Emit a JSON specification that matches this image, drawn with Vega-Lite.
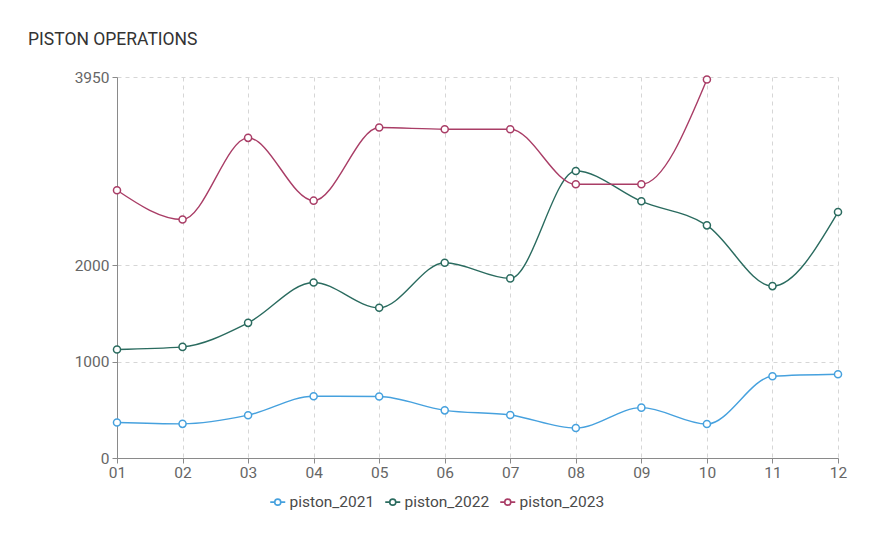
{
  "$schema": "https://vega.github.io/schema/vega-lite/v6.json",
  "width": 721,
  "height": 381,
  "autosize": {"type": "none"},
  "padding": {"left": 117, "top": 77, "right": 47, "bottom": 83},
  "background": "white",
  "config": {
    "font": "Roboto",
    "view": {"stroke": null},
    "axis": {
      "labelFont": "Roboto",
      "labelFontSize": 15.5,
      "labelColor": "#666666",
      "domainColor": "#8a8a8a",
      "tickColor": "#8a8a8a",
      "tickSize": 5,
      "gridColor": "#d6d6d6",
      "gridDash": [4, 4],
      "title": null
    }
  },
  "title": {
    "text": "PISTON OPERATIONS",
    "anchor": "start",
    "frame": "group",
    "font": "Roboto",
    "fontSize": 17.5,
    "fontWeight": "normal",
    "color": "#333333",
    "dx": -89,
    "dy": -18
  },
  "data": {
    "values": [
      {"month": "01", "series": "piston_2021", "value": 368},
      {"month": "02", "series": "piston_2021", "value": 354},
      {"month": "03", "series": "piston_2021", "value": 444},
      {"month": "04", "series": "piston_2021", "value": 640},
      {"month": "05", "series": "piston_2021", "value": 637},
      {"month": "06", "series": "piston_2021", "value": 494},
      {"month": "07", "series": "piston_2021", "value": 446},
      {"month": "08", "series": "piston_2021", "value": 311},
      {"month": "09", "series": "piston_2021", "value": 522},
      {"month": "10", "series": "piston_2021", "value": 352},
      {"month": "11", "series": "piston_2021", "value": 847},
      {"month": "12", "series": "piston_2021", "value": 868},
      {"month": "01", "series": "piston_2022", "value": 1125},
      {"month": "02", "series": "piston_2022", "value": 1152},
      {"month": "03", "series": "piston_2022", "value": 1401},
      {"month": "04", "series": "piston_2022", "value": 1820},
      {"month": "05", "series": "piston_2022", "value": 1557},
      {"month": "06", "series": "piston_2022", "value": 2024},
      {"month": "07", "series": "piston_2022", "value": 1862},
      {"month": "08", "series": "piston_2022", "value": 2976},
      {"month": "09", "series": "piston_2022", "value": 2661},
      {"month": "10", "series": "piston_2022", "value": 2412},
      {"month": "11", "series": "piston_2022", "value": 1782},
      {"month": "12", "series": "piston_2022", "value": 2550},
      {"month": "01", "series": "piston_2023", "value": 2776},
      {"month": "02", "series": "piston_2023", "value": 2473},
      {"month": "03", "series": "piston_2023", "value": 3319},
      {"month": "04", "series": "piston_2023", "value": 2668},
      {"month": "05", "series": "piston_2023", "value": 3426},
      {"month": "06", "series": "piston_2023", "value": 3409},
      {"month": "07", "series": "piston_2023", "value": 3409},
      {"month": "08", "series": "piston_2023", "value": 2838},
      {"month": "09", "series": "piston_2023", "value": 2838},
      {"month": "10", "series": "piston_2023", "value": 3924}
    ]
  },
  "encoding": {
    "x": {
      "field": "month",
      "type": "ordinal",
      "scale": {"type": "point", "padding": 0},
      "axis": {"labelAngle": 0, "grid": true, "labelPadding": 2}
    },
    "y": {
      "field": "value",
      "type": "quantitative",
      "scale": {"domain": [0, 3950], "nice": false, "zero": true},
      "axis": {"values": [0, 1000, 2000, 3950], "format": "d", "grid": true, "labelPadding": 3}
    }
  },
  "layer": [
    {
      "mark": {"type": "line", "interpolate": "monotone", "strokeWidth": 1.4},
      "encoding": {
        "color": {
          "field": "series",
          "type": "nominal",
          "scale": {
            "domain": ["piston_2021", "piston_2022", "piston_2023"],
            "range": ["#46a1de", "#2a6b5f", "#a93d66"]
          },
          "legend": {
            "title": null,
            "orient": "none",
            "direction": "horizontal",
            "legendX": 153,
            "legendY": 417,
            "symbolType": "M-1.5,0L-0.6,0M0.6,0L1.5,0M-0.6,0A0.6,0.6 0 1,0 0.6,0A0.6,0.6 0 1,0 -0.6,0Z",
            "symbolSize": 100,
            "symbolStrokeWidth": 1.6,
            "symbolFillColor": "white",
            "labelFont": "Roboto",
            "labelFontSize": 15.5,
            "labelColor": "#4a4a4a",
            "labelOffset": 4,
            "columnPadding": 7
          }
        }
      }
    },
    {
      "mark": {"type": "point", "filled": true, "fill": "white", "size": 50, "strokeWidth": 1.5, "opacity": 1},
      "encoding": {
        "stroke": {
          "field": "series",
          "type": "nominal",
          "scale": {
            "domain": ["piston_2021", "piston_2022", "piston_2023"],
            "range": ["#46a1de", "#2a6b5f", "#a93d66"]
          },
          "legend": null
        }
      }
    }
  ]
}
